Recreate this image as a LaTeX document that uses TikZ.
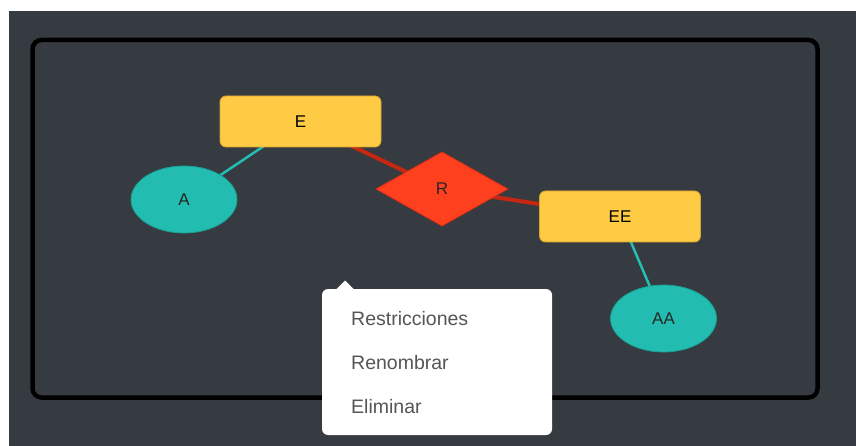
\documentclass[tikz,border=0pt]{standalone}
\usepackage{fontspec}
\setmainfont{Liberation Sans}
\usetikzlibrary{shapes.geometric}
\definecolor{canvasbg}{RGB}{54,58,65}
\definecolor{entfill}{RGB}{255,203,69}
\definecolor{entline}{RGB}{214,165,45}
\definecolor{attfill}{RGB}{34,189,176}
\definecolor{attline}{RGB}{26,158,148}
\definecolor{relfill}{RGB}{255,64,31}
\definecolor{relline}{RGB}{214,46,20}
\definecolor{reledge}{RGB}{196,40,16}
\definecolor{attedge}{RGB}{36,190,178}
\definecolor{menutext}{RGB}{85,85,85}
\pgfdeclarelayer{bglayer}
\pgfdeclarelayer{edgelayer}
\pgfsetlayers{bglayer,edgelayer,main}
\tikzset{
  entity/.style={draw=entline, line width=0.8pt, fill=entfill, rounded corners=6pt,
    minimum width=161pt, minimum height=51pt, inner sep=0pt, outer sep=0pt,
    font=\fontsize{17}{20}\selectfont, text=black},
  attrib/.style={ellipse, draw=attline, line width=0.8pt, fill=attfill,
    minimum width=106pt, minimum height=67pt, inner sep=0pt, outer sep=0pt,
    font=\fontsize{17}{20}\selectfont, text=black!85},
  relation/.style={diamond, draw=relline, line width=0.8pt, fill=relfill,
    minimum width=132pt, minimum height=74pt, inner sep=0pt, outer sep=0pt,
    font=\fontsize{17}{20}\selectfont, text=black!85},
  reltie/.style={draw=reledge, line width=4pt},
  atttie/.style={draw=attedge, line width=2.5pt},
  menuitem/.style={anchor=base west, inner sep=0pt, text=menutext,
    font=\fontsize{19.5}{22}\selectfont}
}
\begin{document}
\begin{tikzpicture}[x=1pt, y=-1pt]
\useasboundingbox (0,0) rectangle (856,446);
\begin{pgfonlayer}{bglayer}
  \fill[white] (0,0) rectangle (856,446);
  \fill[canvasbg] (9,11) rectangle (856,446);
  \draw[black, line width=4.5pt, rounded corners=9pt] (32.5,40) rectangle (817.5,397.5);
\end{pgfonlayer}

% entities, attributes and the relationship
\node[entity]   (E)  at (300.5,121.5) {E};
\node[entity]   (EE) at (620,216.5)   {EE};
\node[attrib]   (A)  at (184,199.5)   {A};
\node[attrib]   (AA) at (663.5,318.5) {AA};
\node[relation] (R)  at (442,189)     {R};

% connectors
\begin{pgfonlayer}{edgelayer}
  \draw[reltie] (E.center) -- (R.center);
  \draw[reltie] (R.center) -- (EE.center);
  \draw[atttie] (E.center) -- (A.center);
  \draw[atttie] (EE.center) -- (AA.center);
\end{pgfonlayer}

% context menu
\fill[white, rounded corners=6pt] (322,289) rectangle (552,435);
\fill[white] (336,289.5) -- (345,280.5) -- (354,289.5) -- cycle;
\node[menuitem] (m1) at (351,325.5) {Restricciones};
\node[menuitem] (m2) at (351,369.5) {Renombrar};
\node[menuitem] (m3) at (351,413)   {Eliminar};
\end{tikzpicture}
\end{document}
